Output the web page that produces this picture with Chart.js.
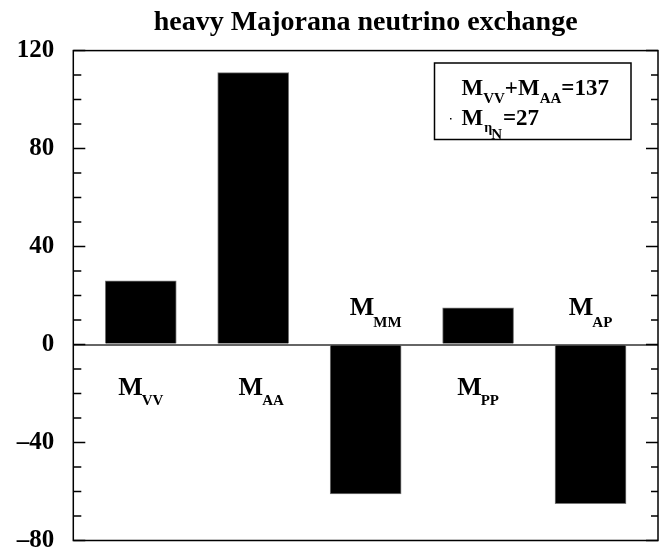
<!DOCTYPE html>
<html>
<head>
<meta charset="utf-8">
<script src="https://cdn.jsdelivr.net/npm/chart.js@4.4.0/dist/chart.umd.min.js"></script>
<style>
  body { margin: 0; background: #fff; }
</style>
</head>
<body>
<canvas id="myChart" width="664" height="554"></canvas>
<script>
// matrix element parts (subscripts of M)
const categories = ['VV', 'AA', 'MM', 'PP', 'AP'];
const values = [26, 111, -61, 15, -65];
const yTicks = [-80, -40, 0, 40, 80, 120];
const etaN = 27;

const serif = '"Liberation Serif", "Times New Roman", serif';

function drawParts(ctx, x, y, parts, measureOnly) {
  parts.forEach(p => {
    ctx.font = 'bold ' + p.size + 'px ' + serif;
    if (!measureOnly) ctx.fillText(p.t, x, y + (p.dy || 0));
    x += ctx.measureText(p.t).width + (p.dx || 0);
  });
  return x;
}

const decorations = {
  id: 'decorations',
  afterDraw(chart) {
    const ctx = chart.ctx;
    const area = chart.chartArea;
    const yScale = chart.scales.y;
    ctx.save();
    ctx.strokeStyle = '#000';
    ctx.fillStyle = '#000';
    ctx.lineWidth = 1.5;

    // frame
    ctx.strokeRect(area.left, area.top, area.right - area.left, area.bottom - area.top);

    // inward ticks every 10, longer at labelled values
    for (let v = yTicks[0]; v <= yTicks[yTicks.length - 1]; v += 10) {
      const y = yScale.getPixelForValue(v);
      const major = yTicks.includes(v);
      ctx.beginPath();
      ctx.moveTo(area.left, y);
      ctx.lineTo(area.left + (major ? 12 : 8), y);
      ctx.moveTo(area.right, y);
      ctx.lineTo(area.right - (major ? 12 : 7), y);
      ctx.stroke();
    }

    // bar labels M_xx
    const zero = yScale.getPixelForValue(0);
    const shift = [0, 8, 10, 0, 0];
    const meta = chart.getDatasetMeta(0);
    ctx.textBaseline = 'alphabetic';
    ctx.textAlign = 'left';
    meta.data.forEach((bar, i) => {
      const pos = values[i] >= 0;
      const parts = [
        { t: 'M', size: 26, dx: -1 },
        { t: categories[i], size: 15, dy: pos ? 10 : 12 }
      ];
      const w = drawParts(ctx, 0, 0, parts, true);
      const x = bar.x + shift[i] - w / 2;
      const y = pos ? zero + 50 : zero - 30;
      drawParts(ctx, x, y, parts);
    });

    // legend box
    ctx.lineWidth = 1.5;
    ctx.strokeRect(434.5, 63, 196.5, 76.5);
    drawParts(ctx, 461.5, 94.5, [
      { t: 'M', size: 23 },
      { t: categories[0], size: 15, dy: 8 },
      { t: '+M', size: 23 },
      { t: categories[1], size: 15, dy: 8 },
      { t: '=' + (values[0] + values[1]), size: 23 }
    ]);
    drawParts(ctx, 461.5, 124.5, [
      { t: 'M', size: 23, dx: 1 },
      { t: '\u03b7', size: 14, dy: 7, dx: -1 },
      { t: 'N', size: 15, dy: 14, dx: 1 },
      { t: '=' + etaN, size: 23 }
    ]);
    ctx.fillRect(450, 118, 1.5, 1.5);
    ctx.restore();
  }
};

new Chart('myChart', {
  type: 'bar',
  data: {
    datasets: [{
      data: values.map((v, i) => ({ x: i + 1, y: v })),
      backgroundColor: '#000',
      borderColor: '#777',
      borderWidth: 1,
      barThickness: 71
    }]
  },
  options: {
    responsive: false,
    animation: false,
    layout: { padding: { left: 0, right: 6, top: 0, bottom: 13.5 } },
    scales: {
      x: {
        type: 'linear',
        min: 0.4,
        max: 5.6,
        offset: false,
        display: false
      },
      y: {
        min: yTicks[0],
        max: yTicks[yTicks.length - 1],
        afterBuildTicks: scale => { scale.ticks = yTicks.map(v => ({ value: v })); },
        afterFit: scale => { scale.width = 73.3; },
        border: { display: false },
        grid: {
          drawTicks: true,
          tickLength: 19,
          tickColor: 'rgba(0,0,0,0)',
          color: ctx => (ctx.tick && ctx.tick.value === 0) ? '#666' : 'rgba(0,0,0,0)',
          lineWidth: 2
        },
        ticks: {
          padding: 0,
          color: '#000',
          font: { family: serif, size: 25, weight: 'bold', lineHeight: 1 },
          callback: v => v < 0 ? '\u2013' + Math.abs(v) : '' + v
        }
      }
    },
    plugins: {
      legend: { display: false },
      tooltip: { enabled: false },
      title: {
        display: true,
        fullSize: false,
        text: 'heavy Majorana neutrino exchange',
        color: '#000',
        font: { family: serif, size: 28, weight: 'bold' },
        padding: { top: 6, bottom: 11 }
      }
    }
  },
  plugins: [decorations]
});
</script>
</body>
</html>
